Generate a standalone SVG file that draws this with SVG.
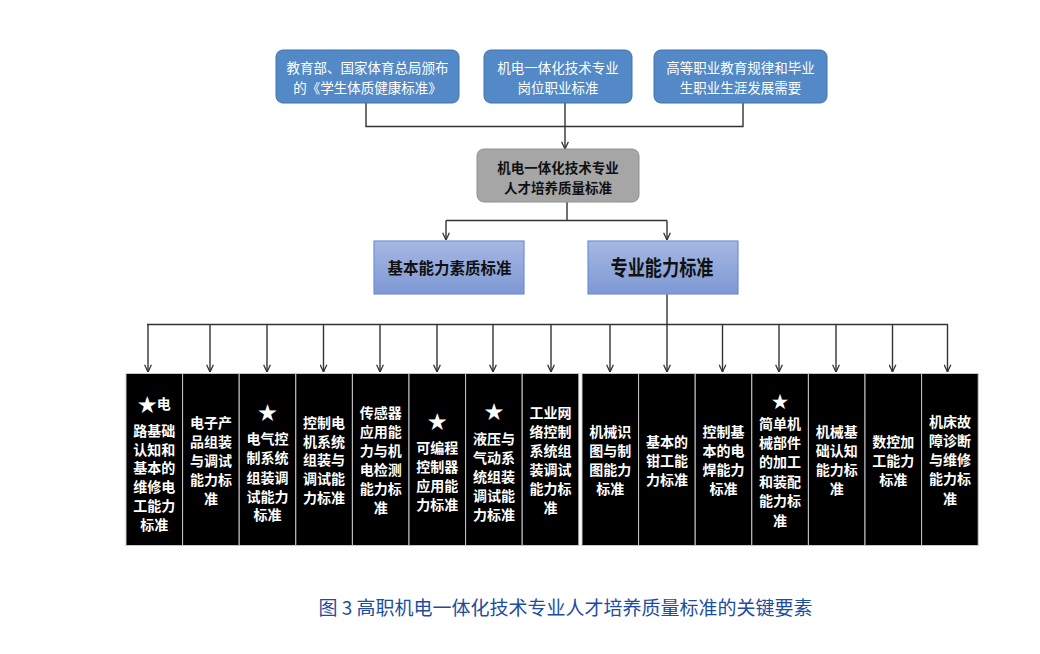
<svg xmlns="http://www.w3.org/2000/svg" width="1040" height="654" viewBox="0 0 1040 654">
<style>
text{font-family:"Noto Sans CJK SC","Noto Sans",sans-serif;text-anchor:middle;dominant-baseline:central}
.top{fill:#5289c6;stroke:#3f72ad;stroke-width:1}
.topt{fill:#fff;font-size:13.5px}
.gray{fill:#a6a6a6;stroke:#8f8f8f;stroke-width:1}
.grayt{fill:#111;font-size:13.5px;font-weight:bold}
.mid{fill:url(#g);stroke:#6f90d6;stroke-width:1.2}
.blk{fill:#000;stroke:#c8c8c8;stroke-width:1}
.bt{fill:#fff;font-size:14px;font-weight:bold}
.star{font-size:19px}
.ln{fill:none;stroke:#333;stroke-width:1.4}
.ar{marker-end:url(#a)}
</style>
<defs>
<linearGradient id="g" x1="0" y1="0" x2="0" y2="1">
<stop offset="0" stop-color="#a6b8e3"/>
<stop offset="1" stop-color="#7d98d3"/>
</linearGradient>
<marker id="a" viewBox="0 0 10 10" refX="9.5" refY="5" markerWidth="8" markerHeight="8" markerUnits="userSpaceOnUse" orient="auto">
<path d="M0.5,0.8 L9.5,5 L0.5,9.2" fill="none" stroke="#333" stroke-width="1.6"/>
</marker>
</defs>
<rect width="1040" height="654" fill="#fff"/>
<g id="connectors">
<path class="ln" d="M366,103 V126.5 H743 V103"/>
<path class="ln ar" d="M565,103 V149"/>
<path class="ln" d="M567,202 V220.5"/>
<path class="ln" d="M446,220.5 H667"/>
<path class="ln ar" d="M446,220.5 V240"/>
<path class="ln ar" d="M667,220.5 V240"/>
<path class="ln" d="M667,294 V324.5"/>
<path class="ln" d="M147,324.5 H948"/>
<path class="ln ar" d="M148,324.5 V372"/>
<path class="ln ar" d="M210,324.5 V372"/>
<path class="ln ar" d="M267,324.5 V372"/>
<path class="ln ar" d="M323.5,324.5 V372"/>
<path class="ln ar" d="M380,324.5 V372"/>
<path class="ln ar" d="M437,324.5 V372"/>
<path class="ln ar" d="M493,324.5 V372"/>
<path class="ln ar" d="M551,324.5 V372"/>
<path class="ln ar" d="M610,324.5 V372"/>
<path class="ln ar" d="M667,324.5 V372"/>
<path class="ln ar" d="M722.5,324.5 V372"/>
<path class="ln ar" d="M779,324.5 V372"/>
<path class="ln ar" d="M836,324.5 V372"/>
<path class="ln ar" d="M892.5,324.5 V372"/>
<path class="ln ar" d="M947.5,324.5 V372"/>
</g>
<g id="n-top1"><rect class="top" x="276" y="50" width="183" height="53" rx="7"/>
<text class="topt" x="367.5" y="67">教育部、国家体育总局颁布</text>
<text class="topt" x="367.5" y="87">的《学生体质健康标准》</text></g>
<g id="n-top2"><rect class="top" x="484" y="50" width="148" height="53" rx="7"/>
<text class="topt" x="558" y="67">机电一体化技术专业</text>
<text class="topt" x="558" y="87">岗位职业标准</text></g>
<g id="n-top3"><rect class="top" x="654" y="50" width="173" height="53" rx="7"/>
<text class="topt" x="740.5" y="67">高等职业教育规律和毕业</text>
<text class="topt" x="740.5" y="87">生职业生涯发展需要</text></g>
<g id="n-core"><rect class="gray" x="477" y="149" width="162" height="53" rx="7"/>
<text class="grayt" x="558" y="166.5">机电一体化技术专业</text>
<text class="grayt" x="558" y="186.5">人才培养质量标准</text></g>
<g id="n-basic"><rect class="mid" x="374" y="241" width="150" height="53"/>
<text x="449.5" y="267" style="font-size:15.5px;font-weight:bold;fill:#111">基本能力素质标准</text></g>
<g id="n-prof"><rect class="mid" x="588" y="241" width="150" height="53"/>
<text x="662" y="266" style="font-size:21px;font-weight:bold;fill:#111" textLength="103" lengthAdjust="spacingAndGlyphs">专业能力标准</text></g>
<g id="n-b1"><rect class="blk" x="126" y="373.5" width="56.6" height="172"/>
<text class="bt" x="154.3" y="403"><tspan class="star">★</tspan>电</text>
<text class="bt" x="154.3" y="430">路基础</text><text class="bt" x="154.3" y="449">认知和</text><text class="bt" x="154.3" y="467">基本的</text><text class="bt" x="154.3" y="486">维修电</text><text class="bt" x="154.3" y="505">工能力</text><text class="bt" x="154.3" y="523.5">标准</text></g>
<g id="n-b2"><rect class="blk" x="182.6" y="373.5" width="56.6" height="172"/>
<text class="bt" x="210.9" y="422">电子产</text><text class="bt" x="210.9" y="441">品组装</text><text class="bt" x="210.9" y="460">与调试</text><text class="bt" x="210.9" y="479">能力标</text><text class="bt" x="210.9" y="498">准</text></g>
<g id="n-b3"><rect class="blk" x="239.2" y="373.5" width="56.6" height="172"/>
<text class="bt star" x="267.5" y="411">★</text>
<text class="bt" x="267.5" y="438">电气控</text><text class="bt" x="267.5" y="457">制系统</text><text class="bt" x="267.5" y="476.5">组装调</text><text class="bt" x="267.5" y="495.5">试能力</text><text class="bt" x="267.5" y="514">标准</text></g>
<g id="n-b4"><rect class="blk" x="295.8" y="373.5" width="56.6" height="172"/>
<text class="bt" x="324.1" y="422">控制电</text><text class="bt" x="324.1" y="440.5">机系统</text><text class="bt" x="324.1" y="459">组装与</text><text class="bt" x="324.1" y="478">调试能</text><text class="bt" x="324.1" y="497">力标准</text></g>
<g id="n-b5"><rect class="blk" x="352.4" y="373.5" width="56.6" height="172"/>
<text class="bt" x="380.7" y="411.5">传感器</text><text class="bt" x="380.7" y="430.5">应用能</text><text class="bt" x="380.7" y="449.5">力与机</text><text class="bt" x="380.7" y="468.5">电检测</text><text class="bt" x="380.7" y="487.5">能力标</text><text class="bt" x="380.7" y="506.5">准</text></g>
<g id="n-b6"><rect class="blk" x="409" y="373.5" width="56.6" height="172"/>
<text class="bt star" x="437.3" y="420">★</text>
<text class="bt" x="437.3" y="446.5">可编程</text><text class="bt" x="437.3" y="465.5">控制器</text><text class="bt" x="437.3" y="485">应用能</text><text class="bt" x="437.3" y="504">力标准</text></g>
<g id="n-b7"><rect class="blk" x="465.6" y="373.5" width="56.6" height="172"/>
<text class="bt star" x="493.9" y="410">★</text>
<text class="bt" x="493.9" y="437.5">液压与</text><text class="bt" x="493.9" y="456.5">气动系</text><text class="bt" x="493.9" y="476">统组装</text><text class="bt" x="493.9" y="495">调试能</text><text class="bt" x="493.9" y="513.5">力标准</text></g>
<g id="n-b8"><rect class="blk" x="522.2" y="373.5" width="56.6" height="172"/>
<text class="bt" x="550.5" y="411.5">工业网</text><text class="bt" x="550.5" y="431">络控制</text><text class="bt" x="550.5" y="450">系统组</text><text class="bt" x="550.5" y="469">装调试</text><text class="bt" x="550.5" y="488">能力标</text><text class="bt" x="550.5" y="507">准</text></g>
<g id="n-b9"><rect class="blk" x="582" y="373.5" width="56.6" height="172"/>
<text class="bt" x="610.3" y="430.5">机械识</text><text class="bt" x="610.3" y="450">图与制</text><text class="bt" x="610.3" y="469">图能力</text><text class="bt" x="610.3" y="488">标准</text></g>
<g id="n-b10"><rect class="blk" x="638.6" y="373.5" width="56.6" height="172"/>
<text class="bt" x="666.9" y="441">基本的</text><text class="bt" x="666.9" y="460">钳工能</text><text class="bt" x="666.9" y="478.5">力标准</text></g>
<g id="n-b11"><rect class="blk" x="695.2" y="373.5" width="56.6" height="172"/>
<text class="bt" x="723.5" y="431">控制基</text><text class="bt" x="723.5" y="450">本的电</text><text class="bt" x="723.5" y="469">焊能力</text><text class="bt" x="723.5" y="488">标准</text></g>
<g id="n-b12"><rect class="blk" x="751.8" y="373.5" width="56.6" height="172"/>
<text class="bt" x="780.1" y="400" style="font-size:17px">★</text>
<text class="bt" x="780.1" y="423">简单机</text><text class="bt" x="780.1" y="442">械部件</text><text class="bt" x="780.1" y="461">的加工</text><text class="bt" x="780.1" y="480.5">和装配</text><text class="bt" x="780.1" y="500">能力标</text><text class="bt" x="780.1" y="520">准</text></g>
<g id="n-b13"><rect class="blk" x="808.4" y="373.5" width="56.6" height="172"/>
<text class="bt" x="836.7" y="430.5">机械基</text><text class="bt" x="836.7" y="450">础认知</text><text class="bt" x="836.7" y="469">能力标</text><text class="bt" x="836.7" y="488">准</text></g>
<g id="n-b14"><rect class="blk" x="865" y="373.5" width="56.6" height="172"/>
<text class="bt" x="893.3" y="441">数控加</text><text class="bt" x="893.3" y="460">工能力</text><text class="bt" x="893.3" y="478.5">标准</text></g>
<g id="n-b15"><rect class="blk" x="921.6" y="373.5" width="56.6" height="172"/>
<text class="bt" x="949.9" y="420.5">机床故</text><text class="bt" x="949.9" y="440">障诊断</text><text class="bt" x="949.9" y="459">与维修</text><text class="bt" x="949.9" y="478">能力标</text><text class="bt" x="949.9" y="498">准</text></g>
<text x="565.5" y="606.5" style="font-size:19px;fill:#1c4d9e">图 3 高职机电一体化技术专业人才培养质量标准的关键要素</text>
</svg>
